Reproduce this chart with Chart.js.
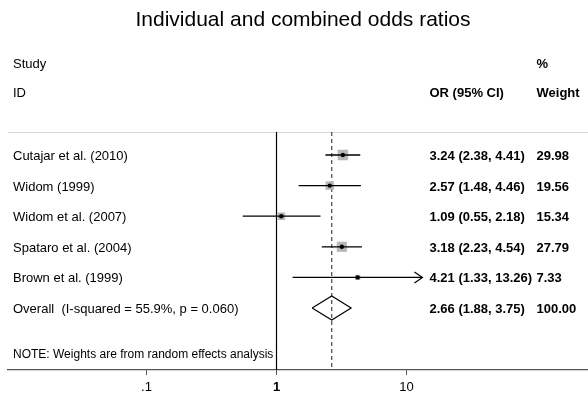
<!DOCTYPE html>
<html>
<head>
<meta charset="utf-8">
<title>Individual and combined odds ratios</title>
<script src="https://cdn.jsdelivr.net/npm/chart.js@4.4.1/dist/chart.umd.min.js"></script>
<style>
  html, body { margin: 0; padding: 0; background: #fff; }
  canvas { display: block; }
</style>
</head>
<body>
<canvas id="forestChart" width="588" height="397"></canvas>
<script>
const studies = ["Cutajar et al. (2010)", "Widom (1999)", "Widom et al. (2007)", "Spataro et al. (2004)", "Brown et al. (1999)"];
const oddsRatios = [3.24, 2.57, 1.09, 3.18, 4.21];
const lowerCI = [2.38, 1.48, 0.55, 2.23, 1.33];
const upperCI = [4.41, 4.46, 2.18, 4.54, 13.26];
const weights = [29.98, 19.56, 15.34, 27.79, 7.33];
const arrowRight = [false, false, false, false, true];

const overallLabel = "Overall  (I-squared = 55.9%, p = 0.060)";
const overallOR = 2.66;
const overallCI = [1.88, 3.75];
const overallWeight = 100.00;

const xTicks = [0.1, 1, 10];
const xMin = 0.0086, xMax = 249;
const yMin = 0.2484, yMax = 8.026;

const FONT = "'Liberation Sans', Arial, sans-serif";
const overallRow = studies.length + 1;

function fmtCI(or, lo, hi) {
    return `${or.toFixed(2)} (${lo.toFixed(2)}, ${hi.toFixed(2)})`;
}

// title, texts, separator and arrow heads
const forestText = {
    id: 'forestText',
    beforeDatasetsDraw(chart) {
        const { ctx, chartArea } = chart;
        ctx.save();
        ctx.strokeStyle = '#d8d8d8';
        ctx.lineWidth = 1.2;
        ctx.beginPath();
        ctx.moveTo(chartArea.left, chartArea.top + 0.5);
        ctx.lineTo(chartArea.right, chartArea.top + 0.5);
        ctx.stroke();
        ctx.restore();
    },
    afterDatasetsDraw(chart) {
        const { ctx } = chart;
        const xs = chart.scales.x, ys = chart.scales.y;
        ctx.save();
        ctx.strokeStyle = '#000';
        ctx.lineWidth = 1.2;
        arrowRight.forEach((a, i) => {
            if (!a) return;
            const px = xs.getPixelForValue(upperCI[i]);
            const py = ys.getPixelForValue(i + 1);
            ctx.beginPath();
            ctx.moveTo(px - 8, py - 5.5);
            ctx.lineTo(px, py);
            ctx.lineTo(px - 8, py + 5.5);
            ctx.stroke();
        });
        ctx.restore();
    },
    afterDraw(chart) {
        const { ctx, chartArea } = chart;
        const ys = chart.scales.y;
        const labelX = chartArea.left + 5;
        const orX = 429.5;
        const wX = 536.5;
        ctx.save();
        ctx.fillStyle = '#000';
        ctx.textBaseline = 'middle';

        ctx.textAlign = 'center';
        ctx.font = `21px ${FONT}`;
        ctx.fillText('Individual and combined odds ratios', 303, 20);

        ctx.textAlign = 'left';
        const hdr1 = chartArea.top - 68;
        const hdr2 = chartArea.top - 39;
        ctx.font = `13px ${FONT}`;
        ctx.fillText('Study', labelX, hdr1);
        ctx.fillText('ID', labelX, hdr2);
        ctx.font = `bold 13px ${FONT}`;
        ctx.fillText('%', wX, hdr1);
        ctx.fillText('OR (95% CI)', orX, hdr2);
        ctx.fillText('Weight', wX, hdr2);

        studies.forEach((s, i) => {
            const py = ys.getPixelForValue(i + 1) + 1.5;
            ctx.font = `13px ${FONT}`;
            ctx.fillText(s, labelX, py);
            ctx.font = `bold 13px ${FONT}`;
            ctx.fillText(fmtCI(oddsRatios[i], lowerCI[i], upperCI[i]), orX, py);
            ctx.fillText(weights[i].toFixed(2), wX, py);
        });

        const oy = ys.getPixelForValue(overallRow) + 1.5;
        ctx.font = `13px ${FONT}`;
        ctx.fillText(overallLabel, labelX, oy);
        ctx.font = `bold 13px ${FONT}`;
        ctx.fillText(fmtCI(overallOR, overallCI[0], overallCI[1]), orX, oy);
        ctx.fillText(overallWeight.toFixed(2), wX, oy);

        ctx.font = `12px ${FONT}`;
        ctx.fillText('NOTE: Weights are from random effects analysis', labelX, chartArea.bottom - 15);
        ctx.restore();
    }
};

const rows = studies.map((s, i) => i + 1);
const diamondH = 0.39;

const datasets = [
    {
        label: 'point',
        data: oddsRatios.map((v, i) => ({ x: v, y: rows[i] })),
        pointRadius: 2.2,
        backgroundColor: '#000',
        borderWidth: 0,
        order: 0
    },
    ...studies.map((s, i) => ({
        label: s,
        data: [{ x: lowerCI[i], y: rows[i] }, { x: upperCI[i], y: rows[i] }],
        showLine: true,
        borderColor: '#000',
        borderWidth: 1.3,
        pointRadius: 0,
        order: 1
    })),
    {
        label: 'weight',
        data: oddsRatios.map((v, i) => ({ x: v, y: rows[i] })),
        pointStyle: 'rect',
        pointRadius: weights.map(w => 1.36 * Math.sqrt(w)),
        backgroundColor: '#b8b8b8',
        borderWidth: 0,
        order: 2
    },
    {
        label: 'overall',
        data: [
            { x: overallCI[0], y: overallRow },
            { x: overallOR, y: overallRow - diamondH },
            { x: overallCI[1], y: overallRow },
            { x: overallOR, y: overallRow + diamondH },
            { x: overallCI[0], y: overallRow }
        ],
        showLine: true,
        borderColor: '#000',
        borderWidth: 1.2,
        pointRadius: 0,
        order: 1
    },
    {
        label: 'null',
        data: [{ x: 1, y: yMin }, { x: 1, y: yMax }],
        showLine: true,
        borderColor: '#000',
        borderWidth: 1.2,
        pointRadius: 0,
        order: 3
    },
    {
        label: 'overall line',
        data: [{ x: overallOR, y: yMin }, { x: overallOR, y: yMax }],
        showLine: true,
        borderColor: '#444',
        borderWidth: 1.2,
        borderDash: [4, 3],
        pointRadius: 0,
        order: 3
    }
];

new Chart(document.getElementById('forestChart'), {
    type: 'scatter',
    data: { datasets: datasets },
    options: {
        responsive: false,
        animation: false,
        layout: { autoPadding: false, padding: { left: 8, right: 0, top: 132, bottom: 0 } },
        plugins: {
            legend: { display: false },
            tooltip: { enabled: false },
            title: { display: false }
        },
        scales: {
            x: {
                type: 'logarithmic',
                min: xMin,
                max: xMax,
                afterBuildTicks: s => { s.ticks = xTicks.map(v => ({ value: v })); },
                afterFit: s => { s.height = 27; },
                grid: { drawOnChartArea: false, drawTicks: true, tickLength: 5, color: '#555' },
                border: { display: true, color: '#555', width: 1.2 },
                ticks: {
                    color: '#000',
                    padding: 5,
                    autoSkip: false,
                    maxRotation: 0,
                    font: c => ({ family: FONT, size: 13, weight: (c.tick && c.tick.value === 1) ? 'bold' : 'normal' }),
                    callback: v => v === 0.1 ? '.1' : String(v)
                }
            },
            y: {
                type: 'linear',
                reverse: true,
                min: yMin,
                max: yMax,
                display: false
            }
        }
    },
    plugins: [forestText]
});
</script>
</body>
</html>
